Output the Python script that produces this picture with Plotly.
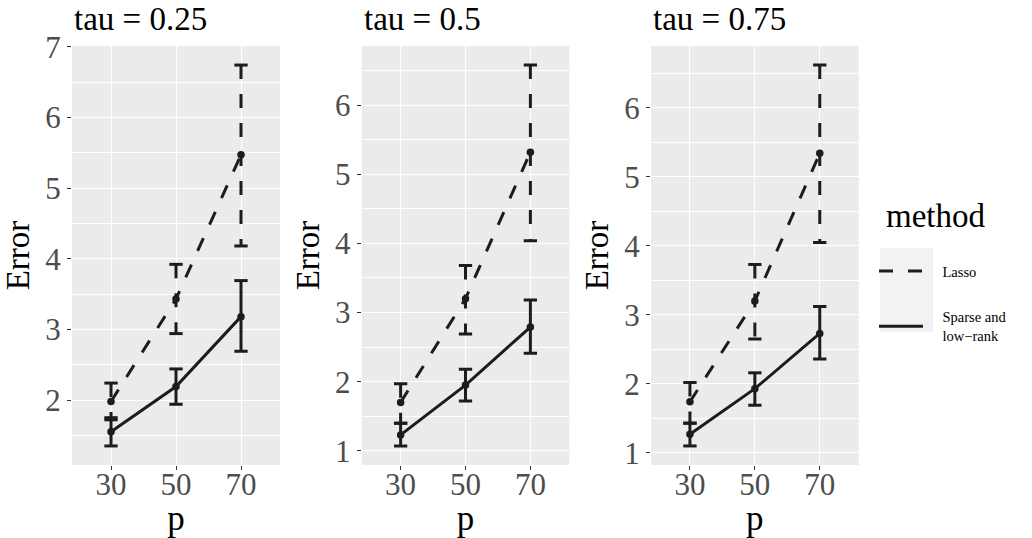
import plotly.graph_objects as go

# ---------------- data ----------------
p_values = [30, 50, 70]
panel_titles = ["tau = 0.25", "tau = 0.5", "tau = 0.75"]
method_names = ["Lasso", "Sparse and<br>low\u2212rank"]
legend_title = "method"

lasso_mean_025 = [1.98, 3.43, 5.47]
lasso_lo_025 = [1.72, 2.94, 4.18]
lasso_hi_025 = [2.24, 3.92, 6.74]
sparse_mean_025 = [1.55, 2.19, 3.18]
sparse_lo_025 = [1.35, 1.94, 2.69]
sparse_hi_025 = [1.75, 2.44, 3.69]

lasso_mean_050 = [1.70, 3.20, 5.32]
lasso_lo_050 = [1.40, 2.69, 4.04]
lasso_hi_050 = [1.97, 3.68, 6.58]
sparse_mean_050 = [1.23, 1.95, 2.79]
sparse_lo_050 = [1.07, 1.72, 2.41]
sparse_hi_050 = [1.40, 2.18, 3.18]

lasso_mean_075 = [1.74, 3.20, 5.34]
lasso_lo_075 = [1.43, 2.65, 4.05]
lasso_hi_075 = [2.02, 3.73, 6.62]
sparse_mean_075 = [1.27, 1.93, 2.73]
sparse_lo_075 = [1.10, 1.69, 2.36]
sparse_hi_075 = [1.43, 2.16, 3.12]

panels = [
    (lasso_mean_025, lasso_lo_025, lasso_hi_025, sparse_mean_025, sparse_lo_025, sparse_hi_025),
    (lasso_mean_050, lasso_lo_050, lasso_hi_050, sparse_mean_050, sparse_lo_050, sparse_hi_050),
    (lasso_mean_075, lasso_lo_075, lasso_hi_075, sparse_mean_075, sparse_lo_075, sparse_hi_075),
]

# ---------------- style ----------------
W, H = 1032, 538
FONT = "Liberation Serif"
INK = "#1c1c1c"
DASH = "14px,15px"
CAP = 2.05          # errorbar half-width in data units
LW = 3
panel_px = [(72, 280), (361.7, 569.3), (651, 858.7)]
panel_top, panel_bot = 46, 465
NB = "\u00a0" * 4


def errorbar_path(x, lo, hi):
    xs, ys = [], []
    for xi, l, h in zip(x, lo, hi):
        xs += [xi - CAP, xi + CAP, None, xi, xi, None, xi - CAP, xi + CAP, None]
        ys += [h, h, None, h, l, None, l, l, None]
    return xs, ys


fig = go.Figure()
layout_axes = {}
annotations = []

for i, (lm, llo, lhi, sm, slo, shi) in enumerate(panels):
    k = "" if i == 0 else str(i + 1)
    xa, ya = "x" + k, "y" + k
    first = i == 0
    ex, ey = errorbar_path(p_values, llo, lhi)
    fig.add_trace(go.Scatter(x=ex, y=ey, xaxis=xa, yaxis=ya, mode="lines",
                             line=dict(color=INK, width=LW, dash=DASH),
                             showlegend=False, hoverinfo="skip"))
    ex, ey = errorbar_path(p_values, slo, shi)
    fig.add_trace(go.Scatter(x=ex, y=ey, xaxis=xa, yaxis=ya, mode="lines",
                             line=dict(color=INK, width=LW),
                             showlegend=False, hoverinfo="skip"))
    fig.add_trace(go.Scatter(x=p_values, y=lm, xaxis=xa, yaxis=ya, mode="lines",
                             line=dict(color=INK, width=LW, dash=DASH),
                             name=NB + method_names[0], legendgroup="a",
                             showlegend=first))
    fig.add_trace(go.Scatter(x=p_values, y=sm, xaxis=xa, yaxis=ya, mode="lines",
                             line=dict(color=INK, width=LW),
                             name=NB + method_names[1].replace("<br>", "<br>" + NB),
                             legendgroup="b", showlegend=first))
    fig.add_trace(go.Scatter(x=p_values + p_values, y=lm + sm, xaxis=xa, yaxis=ya,
                             mode="markers", marker=dict(color=INK, size=7.5),
                             showlegend=False))

    lo_all = min(min(llo), min(slo))
    hi_all = max(max(lhi), max(shi))
    pad = (hi_all - lo_all) * 0.05
    x0, x1 = panel_px[i]
    layout_axes["xaxis" + k] = dict(
        domain=[x0 / W, x1 / W], anchor=ya, range=[18, 82], automargin=False,
        tickvals=p_values, ticks="outside", ticklen=4, tickcolor="#333333",
        ticklabelstandoff=-12,
        tickfont=dict(family=FONT, size=31, color="#4D4D4D"),
        showgrid=True, gridcolor="white", gridwidth=1.3, zeroline=False,
        title=dict(text="p", font=dict(family=FONT, size=35, color="black"), standoff=7),
    )
    layout_axes["yaxis" + k] = dict(
        domain=[1 - panel_bot / H, 1 - panel_top / H], anchor=xa, automargin=False,
        range=[lo_all - pad, hi_all + pad], dtick=1,
        ticks="outside", ticklen=4, tickcolor="#333333",
        tickfont=dict(family=FONT, size=31, color="#4D4D4D"),
        showgrid=True, gridcolor="white", gridwidth=1.3, zeroline=False,
        minor=dict(dtick=0.5, showgrid=True, gridcolor="white", gridwidth=0.7, ticks=""),
        title=dict(text="Error", font=dict(family=FONT, size=33, color="black"), standoff=5),
    )
    annotations.append(dict(text=panel_titles[i], xref="paper", yref="paper",
                            x=x0 / W, y=1 - 19 / H, xanchor="left", yanchor="middle",
                            showarrow=False, font=dict(family=FONT, size=33, color="black")))

annotations.append(dict(text=legend_title, xref="paper", yref="paper",
                        x=884 / W, y=1 - 216 / H, xanchor="left", yanchor="middle",
                        showarrow=False, font=dict(family=FONT, size=33, color="black")))

fig.update_layout(
    width=W, height=H, margin=dict(l=0, r=0, t=0, b=0),
    paper_bgcolor="white", plot_bgcolor="#EBEBEB",
    annotations=annotations,
    shapes=[dict(type="rect", xref="paper", yref="paper", layer="below",
                 x0=880 / W, x1=933 / W, y0=1 - 332 / H, y1=1 - 248 / H,
                 fillcolor="#F2F2F2", line=dict(width=0))],
    legend=dict(x=874 / W, y=1 - 255 / H, xanchor="left", yanchor="top",
                bgcolor="rgba(0,0,0,0)", traceorder="grouped", tracegroupgap=24,
                itemwidth=44,
                font=dict(family=FONT, size=14.5, color="black")),
    **layout_axes,
)

fig.write_html("out.html", config={"displayModeBar": False},
               post_script="document.body.style.margin='0';document.body.style.overflow='hidden';")
